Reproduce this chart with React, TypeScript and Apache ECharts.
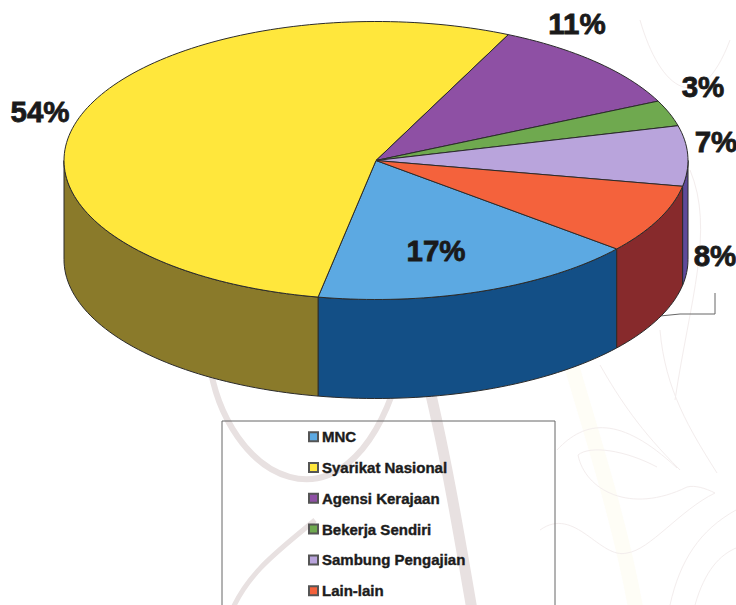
import React, { useEffect, useRef } from "react";
import * as echarts from "echarts";

const categories = ["MNC", "Syarikat Nasional", "Agensi Kerajaan", "Bekerja Sendiri", "Sambung Pengajian", "Lain-lain"];
const values = [17, 54, 11, 3, 7, 8];
const topColors = ["#5ca9e2", "#ffe73c", "#8e50a4", "#6fa94f", "#b9a4dc", "#f4623c"];
const sideColors = ["#134f86", "#8a7a2a", "#5a3a8c", "#3a6a2a", "#5e4a9a", "#872a2c"];
const labelAnchors: [number, number][] = [[436, 250], [40, 111], [577, 23], [703, 86], [716, 141], [715, 255]];

const CX = 376, CY = 160.5, RX = 312, RY = 139, DEPTH = 99, START = 39.5;
const OUTLINE = "#2b2b2b";
const total = values.reduce((a, b) => a + b, 0);
const rad = (d: number) => (d * Math.PI) / 180;
const pt = (t: number, dy = 0): number[] => [CX + RX * Math.cos(rad(t)), CY + dy + RY * Math.sin(rad(t))];
const arc = (a: number, b: number, dy = 0) => {
  const n = Math.max(2, Math.ceil(Math.abs(b - a) / 1.5));
  const out: number[][] = [];
  for (let i = 0; i <= n; i++) out.push(pt(a + ((b - a) * i) / n, dy));
  return out;
};

const sliceRange = (i: number): [number, number] => {
  const before = values.slice(0, i).reduce((a, b) => a + b, 0);
  return [START + (before / total) * 360, START + ((before + values[i]) / total) * 360];
};

const sideRanges = (a: number, b: number) => {
  const res: [number, number][] = [];
  for (const [l, h] of [[0, 180], [360, 540]]) {
    const s = Math.max(a, l), e = Math.min(b, h);
    if (e > s) res.push([s, e]);
  }
  return res;
};

const renderSlice = (i: number) => () => {
  const [a, b] = sliceRange(i);
  const children: any[] = [];
  for (const [s, e] of sideRanges(a, b)) {
    children.push({
      type: "polygon",
      shape: { points: [...arc(s, e), ...arc(e, s, DEPTH)] },
      style: { fill: sideColors[i], stroke: OUTLINE, lineWidth: 1 },
    });
  }
  children.push({
    type: "polygon",
    shape: { points: [[CX, CY], ...arc(a, b)] },
    style: { fill: topColors[i], stroke: OUTLINE, lineWidth: 1 },
  });
  return { type: "group", children };
};

const wm = "#e8e1e1";
const pale = "#f3eded";
const cream = "#fefdf6";

export default function App() {
  const ref = useRef<HTMLDivElement>(null);
  useEffect(() => {
    const chart = echarts.init(ref.current!, undefined, { renderer: "svg" });
    const curve = (x1: number, y1: number, c1x: number, c1y: number, c2x: number, c2y: number, x2: number, y2: number, color: string, w: number) => ({
      type: "bezierCurve",
      silent: true,
      z: -10,
      shape: { x1, y1, cpx1: c1x, cpy1: c1y, cpx2: c2x, cpy2: c2y, x2, y2 },
      style: { stroke: color, lineWidth: w, fill: "none" },
    });
    chart.setOption({
      animation: false,
      backgroundColor: "#ffffff",
      legend: {
        orient: "vertical",
        left: 308,
        top: 429,
        data: categories,
        icon: "rect",
        itemWidth: 9,
        itemHeight: 9,
        itemGap: 15.4,
        padding: 0,
        selectedMode: false,
        textStyle: {
          fontFamily: "Liberation Sans",
          fontWeight: "bold",
          fontSize: 15,
          color: "#1c1c1c",
          textBorderColor: "#1c1c1c",
          textBorderWidth: 0.4,
          padding: [0, 0, 0, -1],
        },
      },
      graphic: [
        curve(209, 360, 225, 480, 345, 545, 397, 380, wm, 6),
        curve(425, 370, 445, 450, 460, 540, 472, 610, wm, 11),
        curve(315, 520, 280, 550, 250, 570, 232, 610, wm, 5),
        curve(570, 360, 590, 430, 620, 520, 636, 610, cream, 15),
        curve(557, 450, 585, 420, 620, 415, 677, 468, pale, 1),
        curve(578, 455, 590, 445, 625, 450, 657, 467, pale, 1),
        curve(578, 455, 585, 490, 630, 515, 687, 487, pale, 1),
        curve(687, 487, 695, 485, 705, 488, 715, 493, pale, 1),
        curve(540, 530, 575, 505, 600, 560, 627, 553, pale, 1),
        curve(627, 553, 650, 550, 680, 510, 715, 493, pale, 1),
        curve(660, 330, 665, 390, 690, 430, 717, 473, pale, 1),
        curve(600, 365, 620, 400, 640, 430, 680, 470, pale, 1),
        curve(670, 605, 680, 560, 700, 530, 736, 510, pale, 1),
        curve(695, 605, 705, 570, 720, 555, 736, 548, pale, 1),
        curve(690, 170, 715, 230, 690, 300, 675, 400, pale, 1),
        curve(640, 20, 660, 90, 700, 120, 730, 40, pale, 1),
        {
          type: "rect",
          silent: true,
          shape: { x: 222, y: 421, width: 333, height: 210 },
          style: { fill: "none", stroke: "#666666", lineWidth: 1 },
        },
        {
          type: "polyline",
          silent: true,
          shape: { points: [[715, 293], [715, 314], [680, 314], [660, 316]] },
          style: { stroke: "#666666", lineWidth: 1, fill: "none" },
        },
        ...values.map((v, i) => ({
          type: "text",
          silent: true,
          z: 10,
          x: labelAnchors[i][0],
          y: labelAnchors[i][1],
          style: {
            text: `${v}%`,
            fill: "#1a1a1a",
            stroke: "#1a1a1a",
            lineWidth: 0.8,
            font: 'bold 29.5px "Liberation Sans"',
            textAlign: "center",
            textVerticalAlign: "middle",
          },
        })),
      ],
      series: categories.map((name, i) => ({
        type: "custom",
        name,
        coordinateSystem: "none",
        silent: true,
        data: [[values[i]]],
        itemStyle: { color: topColors[i], borderColor: "#555555", borderWidth: 1 },
        renderItem: renderSlice(i),
      })),
    });
    return () => chart.dispose();
  }, []);
  return <div ref={ref} style={{ position: "absolute", left: 0, top: 0, width: 736, height: 605 }} />;
}
